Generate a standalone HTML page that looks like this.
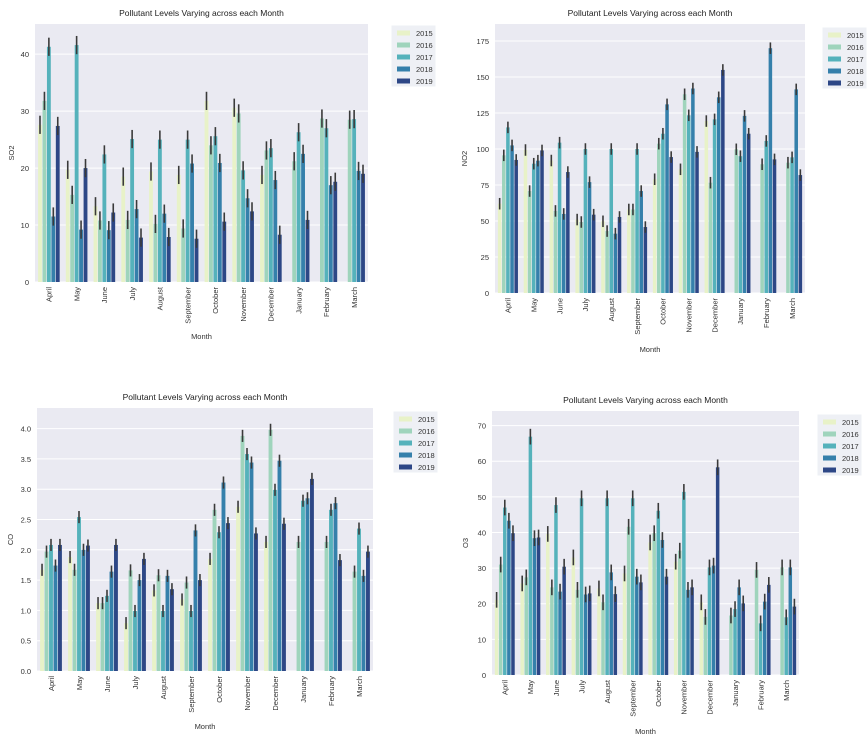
<!DOCTYPE html>
<html><head><meta charset="utf-8">
<style>
html,body{margin:0;padding:0;background:#fff;}
svg{display:block;font-family:"Liberation Sans","DejaVu Sans",sans-serif;}
</style></head>
<body>
<svg id="fig" width="867" height="738" viewBox="0 0 867 738"></svg>
<script>
const months = ["April","May","June","July","August","September","October","November","December","January","February","March"];
const years = ["2015","2016","2017","2018","2019"];
const colors = ["#e8f2c8","#9fd4bc","#55b2bb","#3580ab","#2d4786"];

const so2_2015 = [27.6,19.7,13.3,18.5,19.4,18.8,31.8,30.6,18.8,0,0,0];
const so2_2016 = [31.8,15.3,10.8,10.9,10.2,9.4,24.0,29.6,23.1,21.2,28.7,28.5];
const so2_2017 = [41.3,41.6,22.4,25.1,25.0,25.0,25.6,19.6,23.5,26.3,27.0,28.6];
const so2_2018 = [11.5,9.2,9.1,12.8,12.0,20.8,20.9,14.7,17.9,22.5,17.0,19.5];
const so2_2019 = [27.4,20.0,12.2,7.8,7.9,7.6,10.6,12.4,8.3,10.9,17.6,19.0];
const so2_ticks = [0,10,20,30,40];

const no2_2015 = [62,99.3,92,51,49.8,58,79,85.9,119.4,0,0,0];
const no2_2016 = [95.6,70.8,57,49.3,43,58,103.7,138,76.6,99.8,89.4,90.5];
const no2_2017 = [115,89.8,104.4,100,100,100,110.6,123.4,120.6,95,105.6,94.2];
const no2_2018 = [102.5,91.9,54.9,77,41.2,70.8,131,142,135.9,123,170,141.4];
const no2_2019 = [92.4,99,84,54.4,52.8,45.8,94.4,98,154.9,110.6,92.8,81.9];
const no2_ticks = [0,25,50,75,100,125,150,175];

const co_2015 = [1.67,1.88,1.12,0.79,1.33,1.18,1.85,2.71,2.13,0,0,0];
const co_2016 = [1.97,1.67,1.12,1.66,1.58,1.46,2.66,3.88,3.98,2.13,2.13,1.64];
const co_2017 = [2.08,2.54,1.24,0.99,0.99,0.99,2.29,3.58,2.99,2.81,2.66,2.35];
const co_2018 = [1.74,2.0,1.64,1.5,1.57,2.32,3.11,3.44,3.47,2.85,2.77,1.57];
const co_2019 = [2.08,2.07,2.08,1.85,1.35,1.5,2.44,2.27,2.43,3.17,1.83,1.97];
const co_ticks = [0,0.5,1,1.5,2,2.5,3,3.5,4];

const o3_2015 = [21.1,25.7,39.6,33,24.3,28.5,37.2,31.8,20.4,0,0,0];
const o3_2016 = [31,27.4,24.6,23.9,20.4,41.6,39.8,34.9,16.3,16.7,29.5,30.2];
const o3_2017 = [47,66.9,47.7,49.6,49.6,49.6,46.1,51.4,30.2,18.5,14.5,16.2];
const o3_2018 = [43.3,38.4,23.4,22.6,28.8,27.6,37.9,23.9,30.7,24.6,20.6,30.2];
const o3_2019 = [39.8,38.6,30.4,22.9,22.7,26,27.6,24.6,58.3,20.1,25.3,19.2];
const o3_ticks = [0,10,20,30,40,50,60,70];

const NS="http://www.w3.org/2000/svg";
const svg=document.getElementById('fig');
function mk(tag,attrs,parent){const e=document.createElementNS(NS,tag);for(const k in attrs)e.setAttribute(k,attrs[k]);(parent||svg).appendChild(e);return e;}

function panel(cfg){
  const g=mk('g',{});
  
  
  const {x0,x1,y0,y1,ymax}=cfg;
  const ys=v=>y1-(v/ymax)*(y1-y0);
  const bg=mk('rect',{x:x0,y:y0,width:x1-x0,height:y1-y0,fill:'#eaeaf2'},g);
  
  
  cfg.ticks.forEach(t=>{
    const y=ys(t);
    mk('line',{x1:x0,x2:x1,y1:y,y2:y,stroke:'#fff','stroke-width':1},g);
    const tl=mk('text',{x:x0-6,y:y+3,'font-size':7.5,fill:'#333','text-anchor':'end'},g);
    tl.textContent=cfg.fmt(t);
    
    
  });
  const slot=(x1-x0)/months.length;
  const bw=slot*0.8/years.length;
  months.forEach((m,i)=>{
    const cx=x0+slot*(i+0.5);
    cfg.series.forEach((arr,j)=>{
      const v=arr[i];
      if(!v) return;
      const bx=cx-slot*0.4+j*bw;
      const r=mk('rect',{x:bx+0.3,y:ys(v),width:bw-0.6,height:y1-ys(v),fill:colors[j]},g);
      
      
      const e=cfg.err;
      const el=mk('line',{x1:bx+bw/2,x2:bx+bw/2,y1:ys(v+e),y2:ys(Math.max(0,v-e)),stroke:'#3a3a3a','stroke-width':1.6},g);
      
      
    });
    const ml=mk('text',{x:0,y:0,'font-size':7.5,fill:'#333','text-anchor':'end',transform:`translate(${cx+2.8},${y1+5}) rotate(-90)`},g);
    ml.textContent=m;
    
    
  });
  const t=mk('text',{x:(x0+x1)/2,y:y0-8,'font-size':8.5,fill:'#222','text-anchor':'middle'},g);
  t.textContent='Pollutant Levels Varying across each Month';
  
  
  const xl=mk('text',{x:(x0+x1)/2,y:cfg.xly,'font-size':7.5,fill:'#333','text-anchor':'middle'},g);
  xl.textContent='Month';
  
  
  const yl=mk('text',{x:0,y:0,'font-size':7.5,fill:'#333','text-anchor':'middle',transform:`translate(${cfg.ylx},${(y0+y1)/2}) rotate(-90)`},g);
  yl.textContent=cfg.label;
  
  
  const lg=mk('g',{},g);
  
  
  mk('rect',{x:cfg.lx,y:cfg.ly,width:45,height:62,fill:'#eef0f5',stroke:'#fff','stroke-width':1},lg);
  years.forEach((yr,j)=>{
    const yy=cfg.ly+8+j*12;
    mk('rect',{x:cfg.lx+6,y:yy-2.5,width:13,height:5,fill:colors[j]},lg);
    const lt=mk('text',{x:cfg.lx+25,y:yy+3,'font-size':7.5,fill:'#333'},lg);
    lt.textContent=yr;
    
    
  });
}

panel({name:'so2',x0:35,x1:368,y0:24,y1:282,ymax:45.3,ticks:so2_ticks,fmt:t=>t,label:'SO2',ylx:14,xly:339,lx:391,ly:25,err:1.6,
  series:[so2_2015,so2_2016,so2_2017,so2_2018,so2_2019]});
panel({name:'no2',x0:495,x1:805,y0:24,y1:293,ymax:186.8,ticks:no2_ticks,fmt:t=>t,label:'NO2',ylx:467,xly:352,lx:822,ly:27,err:4,
  series:[no2_2015,no2_2016,no2_2017,no2_2018,no2_2019]});
panel({name:'co',x0:37,x1:373,y0:408,y1:671,ymax:4.34,ticks:co_ticks,fmt:t=>t.toFixed(1),label:'CO',ylx:13,xly:729,lx:393,ly:411,err:0.1,
  series:[co_2015,co_2016,co_2017,co_2018,co_2019]});
panel({name:'o3',x0:492,x1:799,y0:411,y1:675,ymax:74.1,ticks:o3_ticks,fmt:t=>t,label:'O3',ylx:468,xly:734,lx:817,ly:414,err:2.2,
  series:[o3_2015,o3_2016,o3_2017,o3_2018,o3_2019]});
</script>
</body></html>
